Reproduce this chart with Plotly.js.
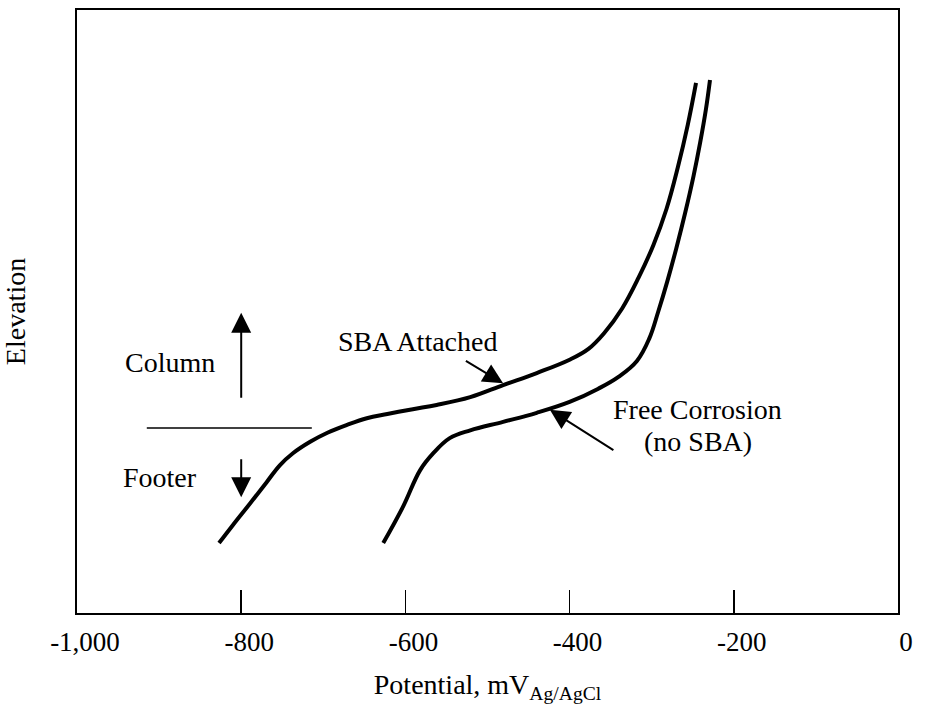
<!DOCTYPE html>
<html>
<head>
<meta charset="utf-8">
<script src="https://cdn.plot.ly/plotly-3.0.1.min.js"></script>
<style>html,body{margin:0;padding:0;background:#fff;}</style>
</head>
<body>
<div id="chart" style="width:926px;height:704px;"></div>
<script>
// Polarization profiles: potential (mV vs Ag/AgCl) against relative elevation
const sbaPotential = [-827, -810, -789, -769, -753, -737, -716, -695, -671, -647, -622, -591, -562, -521, -481, -440, -400, -377, -358, -336, -316, -298, -282, -268, -256, -246];
const sbaElevation = [11.6, 14.6, 18.2, 21.7, 24.5, 26.5, 28.4, 29.9, 31.2, 32.3, 33.0, 33.8, 34.5, 35.8, 37.8, 39.8, 42.0, 43.8, 46.4, 50.5, 55.6, 61.0, 67.0, 74.0, 81.0, 87.9];

const freePotential = [-627, -603, -582, -566, -546, -521, -481, -440, -400, -365, -340, -318, -303, -292, -281, -270, -259, -249, -241, -234, -229];
const freeElevation = [11.6, 17.6, 23.7, 26.5, 29.0, 30.3, 31.7, 33.2, 35.0, 37.2, 39.2, 41.8, 45.5, 50.0, 55.0, 60.5, 66.5, 72.5, 78.0, 83.5, 88.4];

const tickValues = [-1000, -800, -600, -400, -200, 0];
const tickLabels = ['-1,000', '-800', '-600', '-400', '-200', '0'];

// Footer / column boundary and the elevation of the marker arrows
const boundaryElevation = 30.7;
const boundarySpan = [-915, -714];
const columnArrow = {x: -800, from: 34.3, to: 49.8};
const footerArrow = {x: -800, from: 26.9, to: 19.2};

const serif = 'Liberation Serif, Times New Roman, serif';

const traces = [
  {x: sbaPotential, y: sbaElevation, mode: 'lines', name: 'SBA Attached',
   line: {color: '#000', width: 4, shape: 'spline', smoothing: 1.1}, hoverinfo: 'skip'},
  {x: freePotential, y: freeElevation, mode: 'lines', name: 'Free Corrosion',
   line: {color: '#000', width: 4, shape: 'spline', smoothing: 1.1}, hoverinfo: 'skip'}
];

function arrow(xTip, yTip, xTail, yTail) {
  return {x: xTip, y: yTip, ax: xTail, ay: yTail, xref: 'x', yref: 'y', axref: 'x', ayref: 'y',
          text: ' ', showarrow: true, arrowhead: 2, arrowsize: 2.0, arrowwidth: 2,
          arrowcolor: '#000', standoff: 0, startstandoff: 0};
}
function label(txt, x, y) {
  return {x: x, y: y, xref: 'x', yref: 'y', text: txt, showarrow: false,
          font: {family: serif, size: 28, color: '#000'}, xanchor: 'center', yanchor: 'middle'};
}

const layout = {
  width: 926, height: 704,
  margin: {l: 77, r: 28, t: 10, b: 91},
  paper_bgcolor: '#fff', plot_bgcolor: '#fff',
  showlegend: false,
  font: {family: serif, color: '#000'},
  xaxis: {
    range: [-1000, 0], tickvals: tickValues, ticktext: tickLabels,
    ticks: 'inside', ticklen: 23, tickwidth: 1.5, tickcolor: '#000',
    showline: true, linewidth: 2, linecolor: '#000', mirror: true,
    showgrid: false, zeroline: false, ticklabelshift: 8, ticklabelstandoff: 4,
    tickfont: {family: serif, size: 27, color: '#000'},
    title: {text: 'Potential, mV<sub>Ag/AgCl</sub>', font: {family: serif, size: 28, color: '#000'}, standoff: 20}
  },
  yaxis: {
    range: [0, 100], showticklabels: false, ticks: '',
    showline: true, linewidth: 2, linecolor: '#000', mirror: true,
    showgrid: false, zeroline: false,
    title: {text: 'Elevation', font: {family: serif, size: 28, color: '#000'}, standoff: 45}
  },
  shapes: [
    {type: 'line', xref: 'x', yref: 'y', x0: boundarySpan[0], x1: boundarySpan[1],
     y0: boundaryElevation, y1: boundaryElevation, line: {color: '#000', width: 1.5}}
  ],
  annotations: [
    arrow(columnArrow.x, columnArrow.to, columnArrow.x, columnArrow.from),
    arrow(footerArrow.x, footerArrow.to, footerArrow.x, footerArrow.from),
    arrow(-481, 38.1, -530, 42.1),
    arrow(-424, 33.7, -343, 26.7),
    label('Column', -887, 41.6),
    label('Footer', -899, 22.4),
    label('SBA Attached', -585, 45.1),
    label('Free Corrosion', -244, 33.8),
    label('(no SBA)', -244, 28.5)
  ]
};

Plotly.newPlot('chart', traces, layout, {staticPlot: true, displayModeBar: false});
</script>
</body>
</html>
